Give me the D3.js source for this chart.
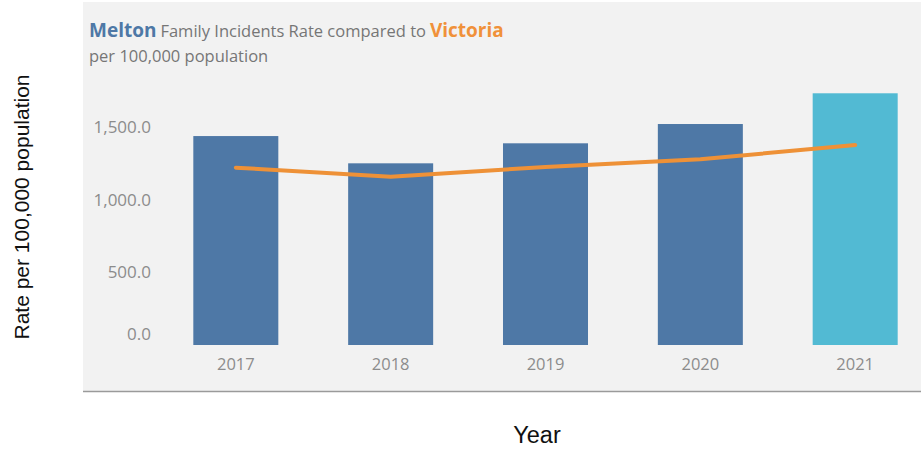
<!DOCTYPE html>
<html>
<head>
<meta charset="utf-8">
<script src="https://cdn.jsdelivr.net/npm/d3@7"></script>
<style>
  html, body { margin: 0; padding: 0; background: #ffffff; }
  svg { display: block; }
</style>
</head>
<body>
<svg id="chart" width="921" height="450"></svg>
<script>
// Family incidents per 100,000 population
const years = ["2017", "2018", "2019", "2020", "2021"];
const meltonRate = [1441, 1253, 1391, 1524, 1736];
const victoriaRate = [1223, 1161, 1228, 1281, 1379];
const yTicks = [0, 500, 1000, 1500];

const svg = d3.select("#chart");

const panel = { left: 83, top: 2, right: 921, bottom: 391 };

// grey worksheet panel
svg.append("rect")
  .attr("x", panel.left).attr("y", panel.top)
  .attr("width", panel.right - panel.left)
  .attr("height", panel.bottom - panel.top)
  .attr("fill", "#f2f2f2");

svg.append("line")
  .attr("x1", panel.left).attr("x2", panel.right)
  .attr("y1", panel.bottom + 0.5).attr("y2", panel.bottom + 0.5)
  .attr("stroke", "#9a9a9a").attr("stroke-width", 1.5);

const x = d3.scaleBand()
  .domain(years)
  .range([158.4, 932.6])
  .paddingInner(0.451)
  .paddingOuter(0.2255);

const y = d3.scaleLinear().domain([0, 1500]).range([345, 127.5]);

const tableFont = "'Open Sans', 'DejaVu Sans', sans-serif";

// bars
svg.append("g").selectAll("rect")
  .data(years)
  .join("rect")
  .attr("x", d => x(d))
  .attr("width", x.bandwidth())
  .attr("y", (d, i) => y(meltonRate[i]))
  .attr("height", (d, i) => y(0) - y(meltonRate[i]))
  .attr("fill", (d, i) => i === years.length - 1 ? "#52bad3" : "#4e78a6");

// Victoria line
const line = d3.line()
  .x((d, i) => x(years[i]) + x.bandwidth() / 2)
  .y(d => y(d));

svg.append("path")
  .datum(victoriaRate)
  .attr("d", line)
  .attr("fill", "none")
  .attr("stroke", "#ee9137")
  .attr("stroke-width", 4)
  .attr("stroke-linecap", "round")
  .attr("stroke-linejoin", "round");

// y axis (no domain line, no tick marks)
const yAxis = d3.axisLeft(y)
  .tickValues(yTicks)
  .tickSize(0)
  .tickPadding(0)
  .tickFormat(d3.format(",.1f"));

const gy = svg.append("g")
  .attr("transform", "translate(151,0)")
  .call(yAxis);
gy.select(".domain").remove();
gy.selectAll("text")
  .attr("fill", "#8c8c8c")
  .attr("font-family", tableFont)
  .attr("font-size", 17)
  .attr("dy", d => d === 0 ? "-0.32em" : "0.32em");

// x axis
const xAxis = d3.axisBottom(x).tickSize(0).tickPadding(0);
const gx = svg.append("g")
  .attr("transform", "translate(0,345)")
  .call(xAxis);
gx.select(".domain").remove();
gx.selectAll("text")
  .attr("fill", "#8c8c8c")
  .attr("font-family", tableFont)
  .attr("font-size", 16.5)
  .attr("dy", null)
  .attr("y", 25);

// title
const title = svg.append("text")
  .attr("x", 89).attr("y", 37)
  .attr("font-family", tableFont);
title.append("tspan")
  .attr("font-size", 19).attr("font-weight", "bold").attr("fill", "#4e78a6")
  .text("Melton");
title.append("tspan")
  .attr("dx", 4)
  .attr("font-size", 16.5).attr("fill", "#767676")
  .text("Family Incidents Rate compared to");
title.append("tspan")
  .attr("dx", 4)
  .attr("font-size", 19).attr("font-weight", "bold").attr("fill", "#f0913a")
  .text("Victoria");

svg.append("text")
  .attr("x", 89).attr("y", 62)
  .attr("font-family", tableFont)
  .attr("font-size", 16.5).attr("fill", "#767676")
  .text("per 100,000 population");

// axis titles
svg.append("text")
  .attr("transform", "translate(29,207) rotate(-90)")
  .attr("text-anchor", "middle")
  .attr("font-family", "'Liberation Sans', Arial, sans-serif")
  .attr("font-size", 21)
  .attr("fill", "#111")
  .text("Rate per 100,000 population");

svg.append("text")
  .attr("x", 537).attr("y", 443)
  .attr("text-anchor", "middle")
  .attr("font-family", "'Liberation Sans', Arial, sans-serif")
  .attr("font-size", 23.5)
  .attr("fill", "#111")
  .text("Year");
</script>
</body>
</html>
